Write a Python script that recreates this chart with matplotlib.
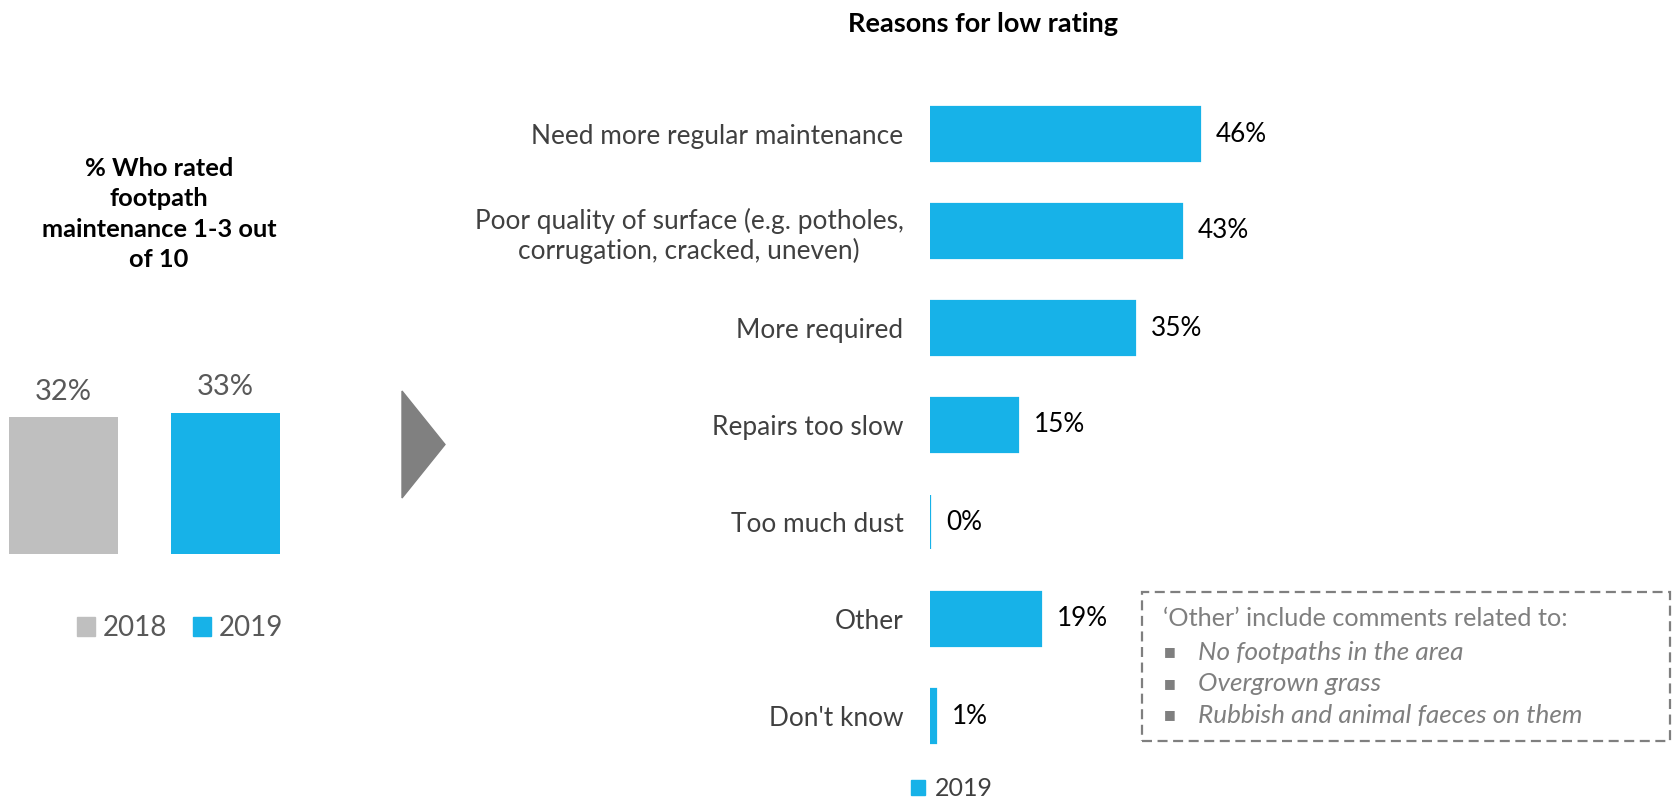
import matplotlib.pyplot as plt
from matplotlib.patches import Patch, Polygon, Rectangle

plt.rcParams['font.family'] = ['Lato', 'DejaVu Sans']

# ---- data ----
years = ['2018', '2019']
low_rating = [32, 33]

reasons = ['Need more regular maintenance',
           'Poor quality of surface (e.g. potholes,\ncorrugation, cracked, uneven)',
           'More required',
           'Repairs too slow',
           'Too much dust',
           'Other',
           "Don't know"]
reason_pct = [46, 43, 35, 15, 0, 19, 1]

other_notes = ['No footpaths in the area',
               'Overgrown grass',
               'Rubbish and animal faeces on them']

BLUE = '#17B2E8'
GREY = '#BFBFBF'
DARK = '#404040'
NOTE = '#7F7F7F'

W, H = 1680, 798
fig = plt.figure(figsize=(W / 100, H / 100), dpi=100)

# ---- left: % who rated 1-3 ----
axl = fig.add_axes([0, 1 - 554 / H, 290 / W, 428 / H])
xpos = range(len(years))
bars = axl.bar(xpos, low_rating, width=0.67, color=[GREY, BLUE])
for b, v in zip(bars, low_rating):
    axl.annotate(f'{v}%', (b.get_x() + b.get_width() / 2, v),
                 xytext=(0, 9), textcoords='offset points',
                 ha='center', va='bottom', fontsize=21, color='#595959')
axl.set_xlim(-0.392, 1.398)
axl.set_ylim(0, 100)
axl.axis('off')

fig.text(159 / W, 1 - 214 / H, '% Who rated\nfootpath\nmaintenance 1-3 out\nof 10',
         ha='center', va='center', fontsize=18.3, fontweight='bold',
         linespacing=1.38, color='black')

fig.legend(handles=[Patch(color=GREY), Patch(color=BLUE)], labels=years,
           loc='center', bbox_to_anchor=(180 / W, 1 - 628 / H), ncol=2,
           frameon=False, fontsize=20, handlelength=0.65, handleheight=0.65,
           handletextpad=0.3, columnspacing=0.9, labelcolor='#595959')

# arrow
fig.patches.append(Polygon([(402 / W, 1 - 391 / H), (445 / W, 1 - 444.5 / H),
                            (402 / W, 1 - 498 / H)], closed=True,
                           transform=fig.transFigure, color='#808080'))

# ---- right: reasons ----
axr = fig.add_axes([930 / W, 1 - 764.5 / H, 586 / W, 679 / H])
ypos = list(range(len(reasons)))
axr.barh(ypos, reason_pct, height=0.55, color=BLUE, edgecolor=BLUE, linewidth=1.6)
for y, v in zip(ypos, reason_pct):
    axr.annotate(f'{v}%', (v, y), xytext=(11.5, 0), textcoords='offset points',
                 ha='left', va='center', fontsize=18.8, color='black')
axr.set_xlim(0, 100)
axr.set_ylim(len(reasons) - 0.5, -0.5)
axr.set_yticks(ypos)
axr.set_yticklabels(reasons, fontsize=18.9, color=DARK, multialignment='center')
axr.tick_params(axis='y', length=0, pad=19)
axr.set_xticks([])
for s in axr.spines.values():
    s.set_visible(False)

fig.text(983 / W, 1 - 24 / H, 'Reasons for low rating', ha='center', va='center',
         fontsize=19.5, fontweight='bold', color='black')

fig.legend(handles=[Patch(color=BLUE)], labels=['2019'], loc='center',
           bbox_to_anchor=(952 / W, 1 - 789 / H), frameon=False, fontsize=18,
           handlelength=0.58, handleheight=0.58, handletextpad=0.4,
           labelcolor=DARK, borderpad=0.1)

# ---- note box ----
fig.patches.append(Rectangle((1142 / W, 1 - 741 / H), 528 / W, 149 / H,
                             transform=fig.transFigure, fill=False,
                             edgecolor=NOTE, linewidth=1.6,
                             linestyle=(0, (4.5, 2.5))))
fig.text(1163 / W, 1 - 619 / H, '\u2018Other\u2019 include comments related to:',
         ha='left', va='center', fontsize=18.2, color=NOTE)
for i, note in enumerate(other_notes):
    yy = 1 - (652 + 31.5 * i) / H
    fig.text(1164 / W, yy, '\u25a0', ha='left', va='center', fontsize=9,
             color=NOTE, family=['DejaVu Sans'])
    fig.text(1198 / W, yy, note, ha='left', va='center', fontsize=18.8,
             style='italic', color=NOTE)

fig.savefig('out.png', dpi=100)
